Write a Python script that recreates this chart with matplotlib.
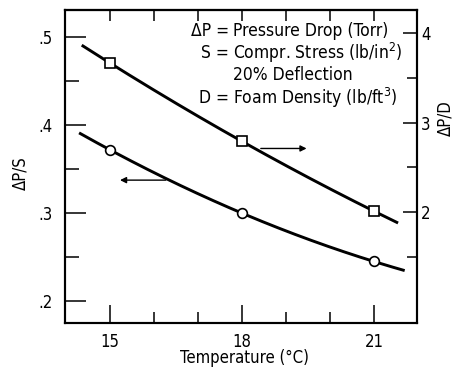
import numpy as np
import matplotlib
matplotlib.use("Agg")
import matplotlib.pyplot as plt
from matplotlib.ticker import FixedLocator, FuncFormatter

# Measured data
temperature = [15, 18, 21]
dp_over_s = [0.372, 0.300, 0.245]      # left axis, circles
dp_over_d = [3.665, 2.79, 2.01]        # right axis, squares

# Extent of the fitted curves (°C)
circle_fit_range = (14.30, 21.70)
square_fit_range = (14.36, 21.55)

x_ticks_major = [15, 18, 21]
x_ticks_minor = [16, 17, 19, 20]
left_ticks = [0.2, 0.3, 0.4, 0.5]
left_minor = [0.25, 0.35, 0.45]
right_ticks = [2, 3, 4]
right_minor = [1.5, 2.5, 3.5]

FONT = dict(family="DejaVu Sans", stretch="condensed")
plt.rcParams["font.family"] = "DejaVu Sans"
plt.rcParams["font.stretch"] = "condensed"
plt.rcParams["mathtext.fontset"] = "dejavusans"

W, H = 455, 370
fig = plt.figure(figsize=(W / 100, H / 100), dpi=100)
L, R, T, B = 65, 417, 10, 323
ax = fig.add_axes([L / W, 1 - B / H, (R - L) / W, (B - T) / H])
ax2 = ax.twinx()

ax.set_xlim(13.98, 21.98)
ax.set_ylim(0.175, 0.531)
ax2.set_ylim(0.76, 4.257)

for a in (ax, ax2):
    for s in a.spines.values():
        s.set_linewidth(1.5)
        s.set_color("black")

# fitted curves through the measured points
def fitted(xs, ys, rng):
    c = np.polyfit(xs, ys, 2)
    xx = np.linspace(rng[0], rng[1], 200)
    return xx, np.polyval(c, xx)

xx, yy = fitted(temperature, dp_over_s, circle_fit_range)
ax.plot(xx, yy, color="black", lw=2.1, solid_capstyle="butt")
ax.plot(temperature, dp_over_s, "o", ms=7, mfc="white", mec="black", mew=1.2)

xx, yy = fitted(temperature, dp_over_d, square_fit_range)
ax2.plot(xx, yy, color="black", lw=2.1, solid_capstyle="butt")
ax2.plot(temperature, dp_over_d, "s", ms=7.5, mfc="white", mec="black", mew=1.2)

# arrows pointing to the relevant axis
ax.annotate("", xy=(15.23, 0.3375), xytext=(16.27, 0.3375),
            arrowprops=dict(arrowstyle="-|>", color="black", lw=1.0,
                            mutation_scale=9, shrinkA=0, shrinkB=0))
ax2.annotate("", xy=(19.47, 2.71), xytext=(18.43, 2.71),
             arrowprops=dict(arrowstyle="-|>", color="black", lw=1.0,
                             mutation_scale=9, shrinkA=0, shrinkB=0))

# ticks
ax.xaxis.set_major_locator(FixedLocator(x_ticks_major))
ax.xaxis.set_minor_locator(FixedLocator(x_ticks_minor))
ax.yaxis.set_major_locator(FixedLocator(left_ticks))
ax.yaxis.set_minor_locator(FixedLocator(left_minor))
ax.yaxis.set_major_formatter(FuncFormatter(lambda v, p: ("%.1f" % v).lstrip("0")))
ax.tick_params(axis="x", which="major", direction="in", length=13, width=1.1,
               labelsize=12, pad=7, top=False)
ax.tick_params(axis="x", which="minor", direction="in", length=8, width=1.1, top=False)
ax.tick_params(axis="y", which="major", direction="in", length=15, width=1.1,
               labelsize=12, pad=9)
ax.tick_params(axis="y", which="minor", direction="in", length=10, width=1.1)

ax2.yaxis.set_major_locator(FixedLocator(right_ticks))
ax2.yaxis.set_minor_locator(FixedLocator(right_minor))
ax2.tick_params(axis="y", which="major", direction="in", length=10, width=1.1,
                labelsize=12, pad=3)
ax2.tick_params(axis="y", which="minor", direction="in", length=7, width=1.1)

top = ax.secondary_xaxis("top")
top.set_xticks(list(range(15, 22)))
top.tick_params(direction="in", length=8, width=1.1, labeltop=False)
top.spines["top"].set_linewidth(1.5)

for lab in ax.get_xticklabels() + ax.get_yticklabels() + ax2.get_yticklabels():
    lab.set_fontstretch("condensed")

def fx(px):
    return px / W

def fy(py):
    return 1 - py / H

# axis titles
fig.text(fx(244), fy(358), "Temperature (°C)", ha="center", va="center", fontsize=12, **FONT)
fig.text(fx(20), fy(173), "ΔP/S", ha="center", va="center", rotation=90, fontsize=12, **FONT)
fig.text(fx(445), fy(118), "ΔP/D", ha="center", va="center", rotation=90, fontsize=12, **FONT)

# legend of symbols
fs = 12.5
fig.text(fx(229), fy(31), "ΔP =", ha="right", va="center", fontsize=fs, **FONT)
fig.text(fx(233), fy(31), "Pressure Drop (Torr)", ha="left", va="center", fontsize=fs, **FONT)
fig.text(fx(229), fy(53), "S =", ha="right", va="center", fontsize=fs, **FONT)
fig.text(fx(233), fy(53), "Compr. Stress (lb/in$^2$)", ha="left", va="center", fontsize=fs, **FONT)
fig.text(fx(233), fy(75), "20% Deflection", ha="left", va="center", fontsize=fs, **FONT)
fig.text(fx(229), fy(98), "D =", ha="right", va="center", fontsize=fs, **FONT)
fig.text(fx(233), fy(98), "Foam Density (lb/ft$^3$)", ha="left", va="center", fontsize=fs, **FONT)

fig.savefig("out.png", dpi=100, facecolor="white")
